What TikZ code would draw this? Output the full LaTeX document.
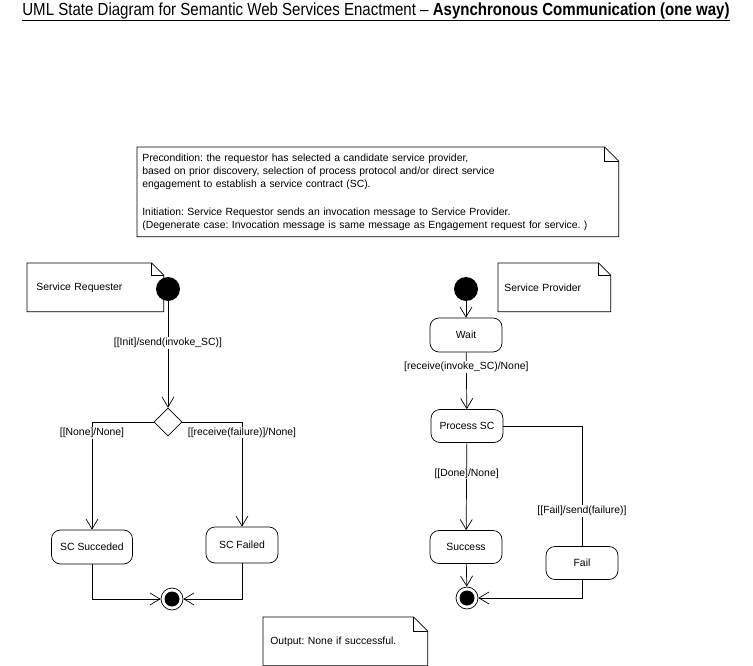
\documentclass[tikz,border=0pt]{standalone}
\usepackage{fontspec}
\setmainfont{Liberation Sans}
\newfontfamily\titlefont[FakeStretch=0.86]{Liberation Sans}
\usetikzlibrary{arrows.meta,shapes.geometric}
\frenchspacing
\newcommand{\umlnote}[2]{\draw (#1.north west) -- ([xshift=-#2]#1.north east) -- ([yshift=-#2]#1.north east) -- (#1.south east) -- (#1.south west) -- cycle;
  \draw ([xshift=-#2]#1.north east) |- ([yshift=-#2]#1.north east);}
\tikzset{
  every node/.style={font=\fontsize{10.4}{13}\selectfont},
  state/.style={draw, rectangle, rounded corners=9pt, minimum width=72pt, minimum height=34pt, inner sep=2pt},
  init/.style={circle, fill=black, minimum size=24pt, inner sep=0pt},
  final/.style={circle, draw, minimum size=22pt, inner sep=0pt,
    path picture={\fill (path picture bounding box.center) circle (7.5pt);}},
  choice/.style={diamond, draw, aspect=1, minimum size=28pt, inner sep=0pt},
  guard/.style={fill=white, inner sep=1pt},
  note/.style={anchor=north west, align=left, inner ysep=0pt}
}
\begin{document}
\begin{tikzpicture}[x=1pt, y=-1pt, line width=0.7pt, >={Straight Barb[length=10pt,width=12pt]}]
\useasboundingbox (0,0) rectangle (753,666);
% ---- TITLE ----
\node (title) at (376,12) {\titlefont\fontsize{17.5}{20}\selectfont\underline{UML State Diagram for Semantic Web Services Enactment \textendash\ \textbf{Asynchronous Communication (one way)}}};
% ---- NOTES ----
\node[note, minimum width=481pt, minimum height=89pt, inner xsep=5pt, text width=471pt] (pre) at (137,147)
  {Precondition: the requestor has selected a candidate service provider,\\
   based on prior discovery, selection of process protocol and/or direct service\\
   engagement to establish a service contract (SC).\\[15pt]
   Initiation: Service Requestor sends an invocation message to Service Provider.\\
   (Degenerate case: Invocation message is same message as Engagement request for service. )};
\umlnote{pre}{14pt}
\node[note, minimum width=136pt, minimum height=48pt, inner xsep=9pt, text width=118pt] (reqnote) at (27,263) {Service Requester};
\umlnote{reqnote}{12pt}
\node[note, minimum width=112pt, minimum height=48pt, inner xsep=6pt, text width=100pt] (provnote) at (498,263) {Service Provider};
\umlnote{provnote}{12pt}
\node[note, minimum width=164pt, minimum height=48pt, inner xsep=7pt, text width=150pt] (outnote) at (263,617) {Output: None if successful.};
\umlnote{outnote}{14pt}
% ---- SERVICE REQUESTER ----
\node[init] (ri) at (168,289) {};
\node[choice] (dec) at (168,422) {};
\node[state, minimum width=81pt] (scs) at (92,547) {SC Succeded};
\node[state, minimum height=36pt] (scf) at (242,545) {SC Failed};
\node[final] (lf) at (172,599) {};
\draw[->] (ri) -- node[guard, pos=0.39] {[[Init]/send(invoke\_SC)]} (dec);
\draw[->] (dec.west) -| node[guard, pos=0.55] {[[None]/None]} (scs.north);
\draw[->] (dec.east) -| node[guard, pos=0.55] {[[receive(failure)]/None]} (scf.north);
\draw[->] (scs.south) |- (lf);
\draw[->] (scf.south) |- (lf);
% ---- SERVICE PROVIDER ----
\node[init] (pi) at (466,289) {};
\node[state] (wait) at (466,335) {Wait};
\node[state, minimum height=33pt] (proc) at (467,426) {Process SC};
\node[state, minimum height=33pt] (succ) at (466,547) {Success};
\node[state, minimum height=33pt] (fail) at (582,563) {Fail};
\node[final] (rf) at (467,598) {};
\draw[->] (pi) -- (wait);
\draw[->] (wait) -- node[guard, pos=0.26] {[receive(invoke\_SC)/None]} (proc);
\draw[->] (proc) -- node[guard, pos=0.35] {[[Done]/None]} (succ);
\draw (proc.east) -| node[guard, pos=0.855] {[[Fail]/send(failure)]} (fail.north);
\draw[->] (succ) -- (rf);
\draw[->] (fail.south) |- (rf);
\end{tikzpicture}
\end{document}
